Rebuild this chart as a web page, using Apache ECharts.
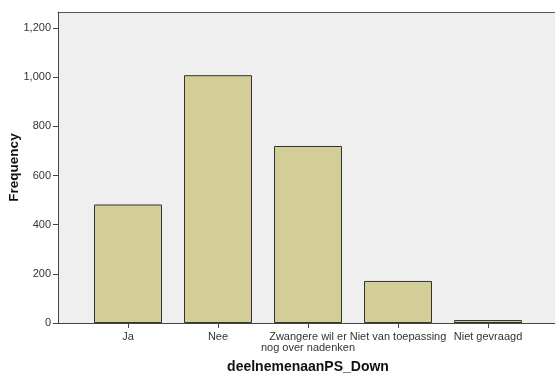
<!DOCTYPE html>
<html><head><meta charset="utf-8">
<script src="https://cdn.jsdelivr.net/npm/echarts@6/dist/echarts.min.js"></script>
<style>html,body{margin:0;padding:0;background:#fff}#c{width:555px;height:375px}</style>
</head><body><div id="c"></div>
<script>
const categories = ['Ja', 'Nee', 'Zwangere wil er\nnog over nadenken', 'Niet van toepassing', 'Niet gevraagd'];
const frequencies = [482, 1008, 720, 171, 12];
const yTicks = [0, 200, 400, 600, 800, 1000, 1200];
const yTitle = 'Frequency';
const xTitle = 'deelnemenaanPS_Down';

const yMax = 1265;
const font = 'Liberation Sans, Arial, sans-serif';
const chart = echarts.init(document.getElementById('c'));
chart.setOption({
  animation: false,
  textStyle: { fontFamily: font },
  grid: [
    { left: 58, top: 12, width: 500, bottom: 52, show: true, backgroundColor: '#EFEFEF', borderWidth: 0,
      containLabel: false, outerBoundsMode: 'none' },
    { left: 83, top: 12, width: 450, bottom: 52, containLabel: false, outerBoundsMode: 'none' }
  ],
  xAxis: [
    { gridIndex: 0, type: 'value', min: 0, max: 1, position: 'bottom',
      axisLine: { show: true, lineStyle: { color: '#444', width: 1 } },
      axisTick: { show: false }, axisLabel: { show: false }, splitLine: { show: false } },
    { gridIndex: 0, type: 'value', min: 0, max: 1, position: 'top',
      axisLine: { show: true, lineStyle: { color: '#555', width: 1 } },
      axisTick: { show: false }, axisLabel: { show: false }, splitLine: { show: false } },
    { gridIndex: 1, type: 'category', data: categories, position: 'bottom',
      axisLine: { show: false },
      axisTick: { show: true, alignWithLabel: true, length: 5, lineStyle: { color: '#444' } },
      axisLabel: { color: '#333', fontSize: 11, margin: 8, lineHeight: 11, interval: 0 },
      name: xTitle, nameLocation: 'middle', nameGap: 37, nameMoveOverlap: false,
      nameTextStyle: { color: '#111', fontSize: 14, fontWeight: 'bold' } }
  ],
  yAxis: [
    { gridIndex: 0, type: 'value', min: 0, max: yMax,
      axisLine: { show: true, lineStyle: { color: '#444', width: 1 } },
      axisTick: { show: true, length: 5, customValues: yTicks, lineStyle: { color: '#444' } },
      axisLabel: { color: '#333', fontSize: 11, margin: 7, customValues: yTicks,
        formatter: v => v.toLocaleString('en-US') },
      splitLine: { show: false },
      name: yTitle, nameLocation: 'middle', nameGap: 37, nameRotate: 90, nameMoveOverlap: false,
      nameTextStyle: { color: '#111', fontSize: 13.5, fontWeight: 'bold' } },
    { gridIndex: 1, type: 'value', min: 0, max: yMax, show: false }
  ],
  series: [{
    type: 'bar', xAxisIndex: 2, yAxisIndex: 1, data: frequencies, barWidth: 68,
    itemStyle: { color: '#D3CE97', borderColor: '#333', borderWidth: 1 }
  }]
});
</script></body></html>
